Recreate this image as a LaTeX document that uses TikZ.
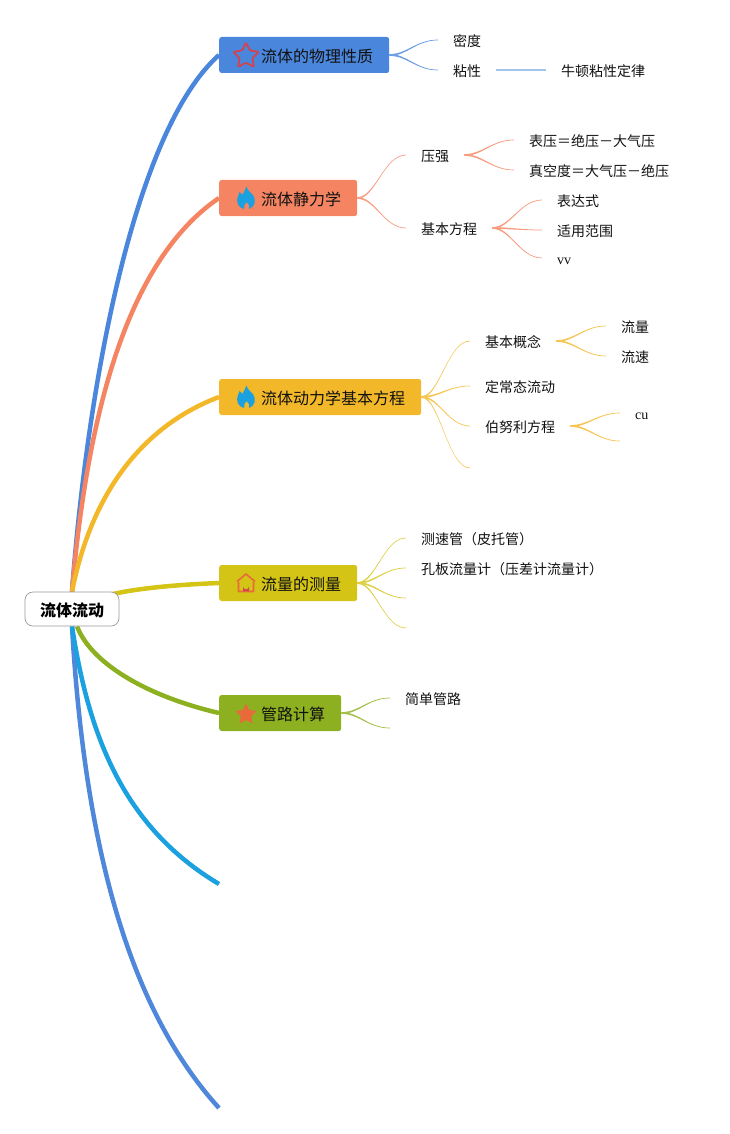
\documentclass[tikz,border=0pt]{standalone}
\usepackage{fontspec}
\setmainfont{Liberation Serif}
\newfontfamily\cjkfont{Noto Sans CJK SC}
\usetikzlibrary{backgrounds}
\definecolor{cA}{HTML}{4A86DC}
\definecolor{cB}{HTML}{F48462}
\definecolor{cC}{HTML}{F2B829}
\definecolor{cD}{HTML}{D4C415}
\definecolor{cE}{HTML}{8DB020}
\definecolor{cF}{HTML}{1BA0E0}
\definecolor{cG}{HTML}{4F87DB}
\definecolor{iconred}{HTML}{D2434E}
\definecolor{iconorange}{HTML}{E8693A}
\definecolor{txt}{HTML}{111111}
\tikzset{
  x=1pt,y=-1pt,
  topic/.style={anchor=west,fill=#1,rounded corners=2.5pt,minimum height=36pt,inner ysep=0pt,
    inner xsep=0pt,text height=17pt,text depth=2.2pt,font=\cjkfont\fontsize{16pt}{18pt}\selectfont,text=txt},
  leaf/.style={anchor=west,inner xsep=15pt,inner ysep=0pt,text height=15pt,text depth=2pt,
    font=\cjkfont\fontsize{14pt}{16pt}\selectfont,text=txt},
  latinleaf/.style={anchor=west,inner xsep=15pt,inner ysep=0pt,text height=15pt,text depth=2pt,
    font=\fontsize{14pt}{16pt}\selectfont,text=txt},
  rootbox/.style={draw=black!40,line width=.7pt,fill=white,rounded corners=8pt,minimum width=94pt,minimum height=34pt,
    inner sep=0pt,text height=17pt,text depth=2.2pt,font=\cjkfont\bfseries\fontsize{16pt}{18pt}\selectfont,text=black},
  mainline/.style={line width=4.5pt,draw=#1},
  flame/.pic={
    \fill[cF] (0.5,-11.5) .. controls (1.5,-7) and (5,-5.5) .. (7,-3) .. controls (10.5,2) and (9,9) .. (3,11)
      .. controls (4,8) and (3,6) .. (0.5,4) .. controls (-.5,6) and (-3,8) .. (-2,11)
      .. controls (-8,10) and (-10.5,3) .. (-8,-2) .. controls (-7.5,-3) and (-7,-4) .. (-6.5,-6) .. controls (-5.5,-5) and (-4.5,-4) .. (-3.5,-3)
      .. controls (-2.5,-5) and (-1,-8) .. (0.5,-11.5) -- cycle;
  },
}
\newcommand{\starshape}[1]{(90:#1)--(54:#1*.5)--(18:#1)--(-18:#1*.5)--(-54:#1)--(-90:#1*.5)--(-126:#1)--(-162:#1*.5)--(162:#1)--(126:#1*.5)--cycle}
% tapered connector: wide at the parent, fine at the child
\newcommand{\conn}[3]{\fill[#1!80!white] ([yshift=.9pt]#2) .. controls +(18,0) and +(-22,0) .. ([yshift=.35pt]#3) -- ([yshift=-.35pt]#3) .. controls +(-22,0) and +(18,0) .. ([yshift=-.9pt]#2) -- cycle;}
\begin{document}
\begin{tikzpicture}
\useasboundingbox (0,0) rectangle (729,1134);
% root
\node[rootbox] (root) at (72,609) {流体流动};
% topics
\node[topic=cA,minimum width=170pt] (t1) at (219,55) {\hspace*{26pt}流体的物理性质};
\node[topic=cB,minimum width=138pt] (t2) at (219,198) {\hspace*{26pt}流体静力学};
\node[topic=cC,minimum width=202pt] (t3) at (219,397) {\hspace*{26pt}流体动力学基本方程};
\node[topic=cD,minimum width=138pt] (t4) at (219,583) {\hspace*{26pt}流量的测量};
\node[topic=cE,minimum width=122pt] (t5) at (219,713) {\hspace*{26pt}管路计算};
\coordinate (t6) at (219,884);
\coordinate (t7) at (219,1108);
% leaves
\node[leaf] (a1) at (438,40) {密度};
\node[leaf] (a2) at (438,70) {粘性};
\node[leaf] (a3) at (546,70) {牛顿粘性定律};
\node[leaf] (b1) at (406,155) {压强};
\node[leaf] (b2) at (406,228) {基本方程};
\node[leaf] (b11) at (514,140) {表压＝绝压－大气压};
\node[leaf] (b12) at (514,170) {真空度＝大气压－绝压};
\node[leaf] (b21) at (542,200) {表达式};
\node[leaf] (b22) at (542,230) {适用范围};
\node[latinleaf] (b23) at (542,258) {vv};
\node[leaf] (c1) at (470,341) {基本概念};
\node[leaf] (c2) at (470,386) {定常态流动};
\node[leaf] (c3) at (470,426) {伯努利方程};
\coordinate (c4) at (470,468);
\node[leaf] (c11) at (606,326) {流量};
\node[leaf] (c12) at (606,356) {流速};
\node[latinleaf] (c31) at (620,413) {cu};
\coordinate (c32) at (620,441);
\node[leaf] (d1) at (406,538) {测速管（皮托管）};
\node[leaf] (d2) at (406,568) {孔板流量计（压差计流量计）};
\coordinate (d3) at (406,598);
\coordinate (d4) at (406,628);
\node[leaf] (e1) at (390,698) {简单管路};
\coordinate (e2) at (390,728);
% main branches
\begin{scope}[on background layer]
\draw[mainline=cG] (root.south) .. controls (85,850) and (130,1010) .. (t7);
\draw[mainline=cF] (root.south) .. controls (88,730) and (120,825) .. (t6);
\draw[mainline=cE] ([xshift=5pt]root.south) .. controls (92,665) and (150,697) .. (t5.west);
\draw[mainline=cD] (root.center) .. controls (100,590) and (170,585) .. (t4.west);
\draw[mainline=cA] (root.north) .. controls (88,380) and (135,130) .. (t1.west);
\draw[mainline=cB] (root.north) .. controls (87,420) and (125,262) .. (t2.west);
\draw[mainline=cC] (root.north) .. controls (92,490) and (145,425) .. (t3.west);
\end{scope}
% sub branches
\conn{cA}{t1.east}{a1.west}
\conn{cA}{t1.east}{a2.west}
\draw[cA!50!white,line width=1.4pt] (a2.east) -- (a3.west);
\conn{cB}{t2.east}{b1.west}
\conn{cB}{t2.east}{b2.west}
\conn{cB}{b1.east}{b11.west}
\conn{cB}{b1.east}{b12.west}
\conn{cB}{b2.east}{b21.west}
\conn{cB}{b2.east}{b22.west}
\conn{cB}{b2.east}{b23.west}
\conn{cC}{t3.east}{c1.west}
\conn{cC}{t3.east}{c2.west}
\conn{cC}{t3.east}{c3.west}
\conn{cC}{t3.east}{c4}
\conn{cC}{c1.east}{c11.west}
\conn{cC}{c1.east}{c12.west}
\conn{cC}{c3.east}{c31.west}
\conn{cC}{c3.east}{c32}
\conn{cD}{t4.east}{d1.west}
\conn{cD}{t4.east}{d2.west}
\conn{cD}{t4.east}{d3}
\conn{cD}{t4.east}{d4}
\conn{cE}{t5.east}{e1.west}
\conn{cE}{t5.east}{e2}
% icons
\begin{scope}[shift={(246,56)}]
  \draw[iconred,line width=1.8pt,line join=round,rounded corners=1.2pt,y=1pt] \starshape{13.5};
\end{scope}
\pic at (246,198) {flame};
\pic at (246,397) {flame};
\begin{scope}[shift={(246,583)}]
  \draw[iconorange,line width=1.6pt,line join=round] (-9,-1.5) -- (0,-9) -- (9,-1.5) (-7.5,-1) -- (-7.5,8.5) -- (7.5,8.5) -- (7.5,-1);
  \fill[iconred] (-3,8) -- (-3,3.5) arc[start angle=180,end angle=0,radius=3] -- (3,8) -- cycle;
\end{scope}
\begin{scope}[shift={(246,714.5)}]
  \fill[iconorange,y=1pt] \starshape{11};
\end{scope}
\end{tikzpicture}
\end{document}
